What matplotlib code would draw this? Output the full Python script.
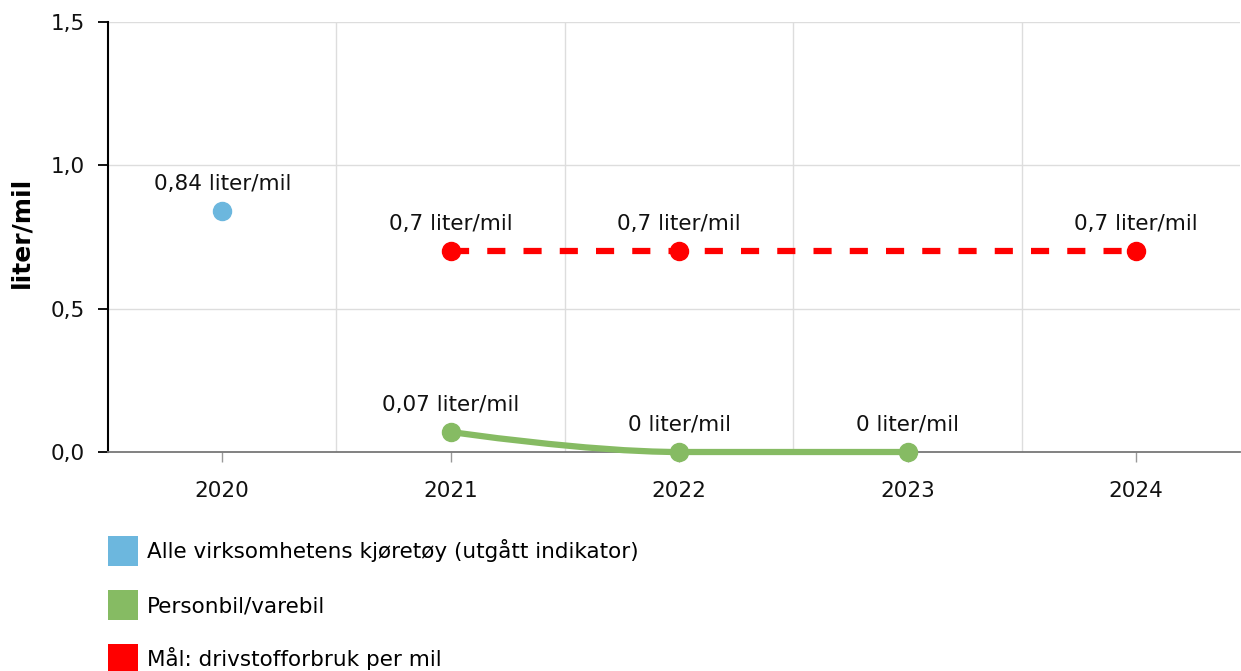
import matplotlib.pyplot as plt
from matplotlib.path import Path
from matplotlib.patches import PathPatch, Patch

years = ["2020", "2021", "2022", "2023", "2024"]
alle = [0.84, None, None, None, None]
personbil = [None, 0.07, 0.0, 0.0, None]
maal = [None, 0.7, 0.7, None, 0.7]

alle_labels = ["0,84 liter/mil", None, None, None, None]
personbil_labels = [None, "0,07 liter/mil", "0 liter/mil", "0 liter/mil", None]
maal_labels = [None, "0,7 liter/mil", "0,7 liter/mil", None, "0,7 liter/mil"]

c_blue = "#6cb7de"
c_green = "#86bb63"
c_red = "#ff0000"

plt.rcParams['font.family'] = ['DejaVu Sans']
fs = 15.5

W, H = 1241, 671
fig = plt.figure(figsize=(W / 100, H / 100), dpi=100)
ax = fig.add_axes([108 / W, (H - 452) / H, (1240 - 108) / W, (452 - 22) / H])


def pts(vals):
    return [(i, v) for i, v in enumerate(vals) if v is not None]


def spline_path(p, smoothing=1.5):
    # highcharts-like spline through the given points
    n = len(p)
    left = [None] * n
    right = [None] * n
    for i in range(n):
        x, y = p[i]
        if i == 0 or i == n - 1:
            left[i] = (x, y)
            right[i] = (x, y)
            continue
        lx = (smoothing * x + p[i - 1][0]) / (smoothing + 1)
        ly = (smoothing * y + p[i - 1][1]) / (smoothing + 1)
        rx = (smoothing * x + p[i + 1][0]) / (smoothing + 1)
        ry = (smoothing * y + p[i + 1][1]) / (smoothing + 1)
        corr = (ry - ly) * (rx - x) / (rx - lx) + y - ry
        ly += corr
        ry += corr
        lo, hi = min(p[i + 1][1], y), max(p[i + 1][1], y)
        if ry < lo:
            ry = lo
            ly = 2 * y - ry
        elif ry > hi:
            ry = hi
            ly = 2 * y - ry
        lo, hi = min(p[i - 1][1], y), max(p[i - 1][1], y)
        if ly < lo:
            ly = lo
            ry = 2 * y - ly
        elif ly > hi:
            ly = hi
            ry = 2 * y - ly
        left[i] = (lx, ly)
        right[i] = (rx, ry)
    verts = [p[0]]
    codes = [Path.MOVETO]
    for i in range(1, n):
        verts += [right[i - 1], left[i], p[i]]
        codes += [Path.CURVE4] * 3
    return Path(verts, codes)


# grid
for y in [0.5, 1.0, 1.5]:
    ax.axhline(y, color="#dddddd", lw=1, zorder=0)
for x in [0.5, 1.5, 2.5, 3.5]:
    ax.axvline(x, color="#dddddd", lw=1, zorder=0)

# series
p_alle = pts(alle)
ax.plot([q[0] for q in p_alle], [q[1] for q in p_alle], "o", color=c_blue,
        ms=13, zorder=4, clip_on=False)

p_green = pts(personbil)
ax.add_patch(PathPatch(spline_path(p_green), fill=False, edgecolor=c_green,
                       lw=4.5, capstyle="round", zorder=3, clip_on=False))
ax.plot([q[0] for q in p_green], [q[1] for q in p_green], "o", color=c_green,
        ms=13, zorder=4, clip_on=False)

p_red = pts(maal)
ax.plot([q[0] for q in p_red], [q[1] for q in p_red], color=c_red, lw=4.5,
        dashes=(2.9, 2.9), zorder=3)
ax.plot([q[0] for q in p_red], [q[1] for q in p_red], "o", color=c_red,
        ms=13, zorder=4)

# data labels
for vals, labs in [(alle, alle_labels), (personbil, personbil_labels), (maal, maal_labels)]:
    for i, (v, t) in enumerate(zip(vals, labs)):
        if t is None:
            continue
        ax.annotate(t, (i, v), xytext=(0, 21), textcoords="offset pixels",
                    ha="center", va="baseline", fontsize=fs, color="#111111",
                    zorder=5)

ax.set_xlim(-0.5, 4.455)
ax.set_ylim(0, 1.5)
ax.set_xticks(range(len(years)))
ax.set_xticklabels(years)
ax.set_yticks([0, 0.5, 1.0, 1.5])
ax.set_yticklabels(["0,0", "0,5", "1,0", "1,5"])
ax.tick_params(axis="y", length=7.5, width=1.3, color="black", labelsize=fs,
               pad=9, labelcolor="#111111")
ax.tick_params(axis="x", length=7, width=1, color="#999999", labelsize=fs,
               pad=14, labelcolor="#111111")

for s in ["top", "right"]:
    ax.spines[s].set_visible(False)
ax.spines["left"].set_color("black")
ax.spines["left"].set_linewidth(1.5)
ax.spines["bottom"].set_color("#777777")
ax.spines["bottom"].set_linewidth(1.3)

ax.set_ylabel("liter/mil", fontsize=18, fontweight="bold")
ax.yaxis.set_label_coords(-0.066, 0.51)

handles = [Patch(facecolor=c_blue, edgecolor="none"),
           Patch(facecolor=c_green, edgecolor="none"),
           Patch(facecolor=c_red, edgecolor="none")]
names = ["Alle virksomhetens kjøretøy (utgått indikator)",
         "Personbil/varebil",
         "Mål: drivstofforbruk per mil"]
fig.legend(handles, names, loc="upper left", bbox_to_anchor=(108 / W, 1 - 536 / H),
           frameon=False, fontsize=fs, handlelength=1.4, handleheight=1.77,
           handletextpad=0.4, labelspacing=1.12, borderaxespad=0, borderpad=0)

fig.savefig("out.png", dpi=100)
